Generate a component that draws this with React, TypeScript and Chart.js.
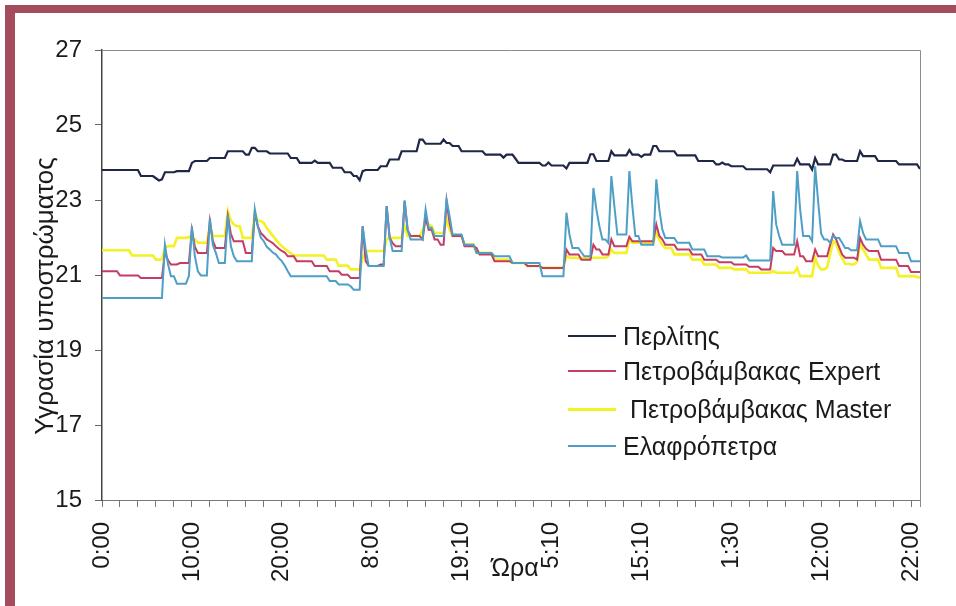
import React, { useEffect, useRef } from 'react';
import { Chart, registerables } from 'chart.js';

Chart.register(...registerables);

const FONT = "'Liberation Sans', Arial, sans-serif";

const seriesNames = ['Περλίτης', 'Πετροβάμβακας Expert', ' Πετροβάμβακας Master', 'Ελαφρόπετρα'];
const seriesColors = ['#1f2747', '#c43d62', '#f2f226', '#4e9fc6'];
const tickLabels = ['0:00', '10:00', '20:00', '8:00', '19:10', '5:10', '15:10', '1:30', '12:00', '22:00'];
const yTitle = 'Υγρασία υποστρώματος';
const xTitle = 'Ώρα';

// one value every 20 minutes of record
const perlite = [
  23.80, 23.80, 23.80, 23.80, 23.80, 23.80, 23.80, 23.80, 23.80, 23.80,
  23.80, 23.80, 23.80, 23.64, 23.64, 23.64, 23.64, 23.64, 23.58, 23.52,
  23.55, 23.74, 23.74, 23.74, 23.74, 23.77, 23.77, 23.77, 23.77, 23.77,
  23.99, 24.04, 24.04, 24.04, 24.04, 24.04, 24.12, 24.12, 24.12, 24.12,
  24.12, 24.12, 24.30, 24.30, 24.30, 24.30, 24.30, 24.30, 24.21, 24.21,
  24.39, 24.39, 24.30, 24.30, 24.30, 24.30, 24.24, 24.24, 24.24, 24.24,
  24.24, 24.24, 24.24, 24.12, 24.12, 24.12, 23.99, 23.99, 23.99, 23.99,
  23.99, 24.05, 23.99, 23.99, 23.99, 23.99, 23.99, 23.86, 23.86, 23.86,
  23.86, 23.74, 23.74, 23.74, 23.64, 23.64, 23.53, 23.77, 23.80, 23.80,
  23.80, 23.80, 23.80, 23.90, 23.90, 23.90, 24.08, 24.08, 24.08, 24.08,
  24.30, 24.30, 24.30, 24.30, 24.30, 24.30, 24.61, 24.61, 24.50, 24.50,
  24.50, 24.50, 24.50, 24.50, 24.61, 24.52, 24.52, 24.44, 24.44, 24.44,
  24.30, 24.30, 24.30, 24.30, 24.30, 24.30, 24.30, 24.30, 24.21, 24.21,
  24.21, 24.21, 24.21, 24.21, 24.13, 24.21, 24.21, 24.21, 24.10, 23.99,
  23.99, 23.99, 23.99, 23.99, 23.99, 23.99, 23.99, 23.92, 23.92, 24.00,
  23.92, 23.92, 23.92, 23.92, 23.92, 23.84, 23.99, 23.99, 23.99, 23.99,
  23.99, 23.99, 23.99, 24.22, 24.22, 24.04, 24.04, 24.04, 24.04, 24.04,
  24.30, 24.19, 24.19, 24.19, 24.19, 24.19, 24.33, 24.21, 24.21, 24.21,
  24.15, 24.21, 24.21, 24.21, 24.44, 24.44, 24.30, 24.30, 24.30, 24.30,
  24.30, 24.30, 24.19, 24.19, 24.19, 24.19, 24.19, 24.19, 24.19, 24.04,
  24.04, 24.04, 24.04, 24.04, 24.04, 23.95, 23.95, 24.00, 23.95, 23.95,
  23.90, 23.90, 23.90, 23.90, 23.90, 23.82, 23.82, 23.82, 23.82, 23.82,
  23.82, 23.82, 23.82, 23.74, 23.92, 23.92, 23.92, 23.92, 23.92, 23.92,
  23.92, 23.92, 24.10, 23.95, 23.95, 23.95, 23.95, 23.81, 24.12, 23.95,
  23.95, 23.95, 23.95, 23.95, 24.21, 24.21, 24.08, 24.08, 24.04, 24.04,
  24.04, 24.04, 24.04, 24.30, 24.17, 24.17, 24.17, 24.17, 24.17, 24.04,
  24.04, 24.04, 24.04, 24.04, 24.04, 24.04, 23.95, 23.95, 23.95, 23.95,
  23.95, 23.95, 23.95, 23.83,
];

const expert = [
  21.10, 21.10, 21.10, 21.10, 21.10, 21.10, 20.99, 20.99, 20.99, 20.99,
  20.99, 20.99, 20.99, 20.92, 20.92, 20.92, 20.92, 20.92, 20.92, 20.92,
  20.92, 21.60, 21.40, 21.28, 21.28, 21.28, 21.32, 21.32, 21.32, 21.32,
  22.21, 21.75, 21.59, 21.59, 21.59, 21.59, 22.44, 21.90, 21.72, 21.72,
  21.72, 21.72, 22.57, 22.10, 21.90, 21.90, 21.90, 21.90, 21.59, 21.59,
  21.59, 22.66, 22.30, 22.12, 22.04, 21.95, 21.90, 21.85, 21.77, 21.70,
  21.64, 21.60, 21.50, 21.50, 21.50, 21.37, 21.37, 21.37, 21.37, 21.37,
  21.37, 21.24, 21.24, 21.24, 21.24, 21.24, 21.10, 21.10, 21.10, 21.10,
  21.01, 21.01, 21.01, 20.92, 20.92, 20.92, 20.92, 22.30, 21.37, 21.24,
  21.24, 21.24, 21.24, 21.28, 21.28, 22.84, 22.00, 21.85, 21.77, 21.77,
  21.77, 22.97, 22.20, 22.04, 22.04, 22.04, 22.04, 21.95, 22.55, 22.21,
  22.21, 21.95, 21.95, 21.81, 21.81, 22.97, 22.39, 22.04, 22.04, 22.04,
  22.04, 21.77, 21.77, 21.77, 21.77, 21.72, 21.55, 21.55, 21.55, 21.55,
  21.55, 21.37, 21.37, 21.37, 21.37, 21.37, 21.37, 21.32, 21.32, 21.32,
  21.32, 21.32, 21.24, 21.24, 21.24, 21.24, 21.24, 21.19, 21.19, 21.19,
  21.19, 21.19, 21.19, 21.19, 21.19, 21.68, 21.55, 21.55, 21.55, 21.55,
  21.41, 21.41, 21.41, 21.41, 21.81, 21.68, 21.68, 21.55, 21.55, 21.55,
  21.95, 21.77, 21.77, 21.77, 21.77, 21.77, 22.02, 21.90, 21.90, 21.90,
  21.90, 21.90, 21.90, 21.90, 21.90, 22.35, 22.04, 21.95, 21.81, 21.81,
  21.81, 21.81, 21.68, 21.68, 21.68, 21.68, 21.68, 21.55, 21.55, 21.55,
  21.55, 21.41, 21.41, 21.41, 21.41, 21.41, 21.34, 21.34, 21.34, 21.34,
  21.34, 21.28, 21.28, 21.28, 21.28, 21.28, 21.22, 21.22, 21.22, 21.22,
  21.15, 21.15, 21.15, 21.15, 21.72, 21.64, 21.64, 21.64, 21.55, 21.55,
  21.55, 21.55, 21.90, 21.50, 21.50, 21.37, 21.37, 21.37, 21.68, 21.50,
  21.50, 21.50, 21.50, 21.80, 22.08, 21.95, 21.75, 21.55, 21.46, 21.46,
  21.46, 21.46, 21.41, 21.99, 21.81, 21.70, 21.64, 21.64, 21.64, 21.64,
  21.41, 21.41, 21.41, 21.41, 21.41, 21.41, 21.24, 21.24, 21.24, 21.24,
  21.08, 21.08, 21.08, 21.08,
];

const master = [
  21.66, 21.66, 21.66, 21.66, 21.66, 21.66, 21.66, 21.66, 21.66, 21.66,
  21.52, 21.52, 21.52, 21.52, 21.52, 21.52, 21.52, 21.52, 21.41, 21.41,
  21.41, 21.72, 21.77, 21.77, 21.77, 21.99, 21.99, 21.99, 21.99, 22.02,
  21.95, 21.95, 21.86, 21.86, 21.86, 21.86, 22.30, 22.04, 22.04, 22.04,
  22.04, 22.04, 22.70, 22.45, 22.35, 22.30, 22.30, 21.99, 21.99, 21.99,
  21.99, 22.66, 22.44, 22.44, 22.39, 22.25, 22.15, 22.05, 21.95, 21.85,
  21.77, 21.70, 21.64, 21.58, 21.52, 21.52, 21.52, 21.52, 21.52, 21.52,
  21.52, 21.52, 21.52, 21.52, 21.52, 21.41, 21.41, 21.41, 21.41, 21.25,
  21.25, 21.25, 21.25, 21.15, 21.15, 21.15, 21.15, 21.45, 21.64, 21.64,
  21.64, 21.64, 21.64, 21.64, 21.64, 21.95, 21.99, 21.99, 21.99, 21.99,
  21.99, 22.30, 22.04, 22.04, 22.04, 22.04, 22.04, 22.20, 22.40, 22.35,
  22.30, 22.12, 22.12, 22.12, 22.12, 22.48, 22.21, 22.04, 22.04, 22.04,
  22.04, 21.81, 21.81, 21.81, 21.81, 21.59, 21.59, 21.59, 21.59, 21.59,
  21.59, 21.41, 21.41, 21.41, 21.41, 21.41, 21.41, 21.32, 21.32, 21.32,
  21.32, 21.32, 21.24, 21.24, 21.24, 21.24, 21.24, 21.19, 21.19, 21.19,
  21.19, 21.19, 21.19, 21.19, 21.19, 21.50, 21.46, 21.46, 21.46, 21.45,
  21.45, 21.45, 21.45, 21.45, 21.46, 21.46, 21.46, 21.46, 21.46, 21.50,
  21.68, 21.59, 21.59, 21.59, 21.59, 21.59, 21.95, 21.86, 21.86, 21.86,
  21.86, 21.86, 21.86, 21.86, 21.86, 22.12, 21.95, 21.80, 21.72, 21.72,
  21.72, 21.55, 21.55, 21.55, 21.55, 21.55, 21.55, 21.41, 21.41, 21.41,
  21.41, 21.28, 21.28, 21.28, 21.28, 21.28, 21.19, 21.19, 21.19, 21.19,
  21.19, 21.15, 21.15, 21.15, 21.15, 21.15, 21.06, 21.06, 21.06, 21.06,
  21.06, 21.06, 21.06, 21.06, 21.10, 21.06, 21.06, 21.06, 21.06, 21.06,
  21.06, 21.06, 21.19, 20.97, 20.97, 20.97, 20.97, 20.97, 21.46, 21.25,
  21.15, 21.15, 21.20, 21.55, 21.90, 21.85, 21.60, 21.45, 21.30, 21.30,
  21.28, 21.28, 21.35, 21.81, 21.68, 21.55, 21.41, 21.41, 21.41, 21.41,
  21.19, 21.19, 21.19, 21.19, 21.19, 21.19, 20.97, 20.97, 20.97, 20.97,
  20.97, 20.97, 20.95, 20.93,
];

const pumice = [
  20.39, 20.39, 20.39, 20.39, 20.39, 20.39, 20.39, 20.39, 20.39, 20.39,
  20.39, 20.39, 20.39, 20.39, 20.39, 20.39, 20.39, 20.39, 20.39, 20.39,
  20.39, 21.81, 21.30, 20.97, 20.97, 20.77, 20.77, 20.77, 20.77, 20.97,
  22.30, 21.50, 21.10, 20.99, 20.99, 20.99, 22.52, 21.80, 21.59, 21.32,
  21.32, 21.32, 22.61, 21.77, 21.50, 21.37, 21.37, 21.37, 21.37, 21.37,
  21.37, 22.75, 22.30, 22.00, 21.90, 21.75, 21.68, 21.60, 21.55, 21.45,
  21.37, 21.25, 21.10, 20.97, 20.97, 20.97, 20.97, 20.97, 20.97, 20.97,
  20.97, 20.97, 20.97, 20.97, 20.97, 20.97, 20.84, 20.84, 20.84, 20.75,
  20.75, 20.75, 20.75, 20.70, 20.61, 20.61, 20.61, 22.30, 21.68, 21.24,
  21.24, 21.24, 21.24, 21.24, 21.24, 22.84, 22.00, 21.64, 21.64, 21.64,
  21.64, 22.99, 22.21, 21.95, 21.95, 21.95, 21.95, 21.95, 22.75, 22.26,
  22.26, 22.04, 22.04, 22.04, 22.04, 23.01, 22.57, 22.08, 22.08, 22.08,
  22.08, 21.81, 21.81, 21.81, 21.81, 21.59, 21.59, 21.59, 21.59, 21.59,
  21.59, 21.50, 21.50, 21.50, 21.50, 21.50, 21.50, 21.32, 21.32, 21.32,
  21.32, 21.32, 21.32, 21.32, 21.32, 21.32, 21.32, 20.97, 20.97, 20.97,
  20.97, 20.97, 20.97, 20.97, 20.97, 22.66, 22.08, 21.72, 21.72, 21.72,
  21.60, 21.50, 21.50, 21.50, 23.32, 22.75, 22.30, 21.95, 21.95, 21.85,
  23.64, 22.84, 22.08, 22.08, 22.08, 22.08, 23.77, 22.84, 22.04, 22.04,
  21.81, 21.81, 21.81, 21.81, 21.81, 23.55, 22.75, 22.21, 21.99, 21.99,
  21.99, 21.99, 21.86, 21.86, 21.86, 21.86, 21.86, 21.68, 21.68, 21.68,
  21.68, 21.68, 21.50, 21.50, 21.50, 21.50, 21.50, 21.47, 21.47, 21.47,
  21.47, 21.47, 21.47, 21.47, 21.47, 21.52, 21.39, 21.39, 21.39, 21.39,
  21.39, 21.39, 21.39, 21.39, 23.24, 22.35, 22.04, 21.81, 21.81, 21.81,
  21.81, 21.81, 23.77, 22.75, 22.04, 22.04, 22.04, 21.90, 23.90, 22.97,
  22.10, 21.95, 21.95, 21.86, 22.04, 21.99, 21.99, 21.86, 21.72, 21.72,
  21.66, 21.66, 21.66, 22.44, 22.12, 21.95, 21.95, 21.95, 21.95, 21.95,
  21.77, 21.77, 21.77, 21.77, 21.77, 21.77, 21.59, 21.59, 21.59, 21.59,
  21.37, 21.37, 21.37, 21.37,
];

const seriesValues = [perlite, expert, master, pumice];
const lineWidths = [2.2, 2, 2.6, 2];
const drawOrder = [0, 2, 3, 1];

const decorPlugin = {
  id: 'decor',
  beforeDatasetsDraw(chart: any) {
    const { ctx, chartArea } = chart;
    ctx.save();
    ctx.strokeStyle = '#8c8c8c';
    ctx.lineWidth = 1;
    ctx.beginPath();
    ctx.moveTo(chartArea.left, chartArea.top + 0.5);
    ctx.lineTo(chartArea.right + 0.5, chartArea.top + 0.5);
    ctx.lineTo(chartArea.right + 0.5, chartArea.bottom + 7);
    ctx.stroke();
    ctx.restore();
  },
  afterDraw(chart: any) {
    const { ctx, chartArea } = chart;
    ctx.save();
    ctx.fillStyle = '#1a1a1a';
    ctx.font = `26px ${FONT}`;
    ctx.textAlign = 'center';
    ctx.textBaseline = 'alphabetic';
    ctx.translate(chartArea.left - 49, (chartArea.top + chartArea.bottom) / 2 + 21);
    ctx.rotate(-Math.PI / 2);
    ctx.fillText(yTitle, 0, 0);
    ctx.restore();
    ctx.save();
    ctx.fillStyle = '#1a1a1a';
    ctx.font = `25px ${FONT}`;
    ctx.textAlign = 'center';
    ctx.textBaseline = 'alphabetic';
    ctx.fillText(xTitle, (chartArea.left + chartArea.right) / 2 + 4, chartArea.bottom + 76);
    ctx.restore();
  },
};

export default function App() {
  const canvasRef = useRef<HTMLCanvasElement | null>(null);

  useEffect(() => {
    const canvas = canvasRef.current;
    if (!canvas) return;
    const chart = new Chart(canvas, {
      type: 'line',
      data: {
        datasets: seriesValues.map((vals, k) => ({
          label: seriesNames[k],
          data: vals.map((v, i) => ({ x: i, y: v })),
          borderColor: seriesColors[k],
          backgroundColor: seriesColors[k],
          borderWidth: lineWidths[k],
          pointRadius: 0,
          tension: 0,
          fill: false,
          order: drawOrder[k],
        })),
      },
      options: {
        animation: false,
        responsive: false,
        devicePixelRatio: 1,
        layout: { padding: { left: 0, top: 50, right: 36, bottom: 0 } },
        plugins: { legend: { display: false }, tooltip: { enabled: false } },
        scales: {
          x: {
            type: 'linear',
            min: 0,
            max: perlite.length - 1,
            afterFit: (s: any) => { s.height = 106; },
            grid: { drawOnChartArea: false, drawTicks: true, tickLength: 7, color: '#777' },
            border: { display: true, color: '#777', width: 1 },
            ticks: {
              stepSize: 6,
              includeBounds: false,
              autoSkip: false,
              minRotation: 90,
              maxRotation: 90,
              padding: 15,
              color: '#1a1a1a',
              font: { family: FONT, size: 24 },
              callback: (v: any) => (Number(v) % 30 === 0 ? tickLabels[Number(v) / 30] : ''),
            },
          },
          y: {
            min: 15,
            max: 27,
            afterFit: (s: any) => { s.width = 102; },
            grid: { drawOnChartArea: false, drawTicks: true, tickLength: 7, color: '#666' },
            border: { display: true, color: '#444', width: 1.5 },
            ticks: {
              stepSize: 2,
              padding: 13,
              color: '#1a1a1a',
              font: { family: FONT, size: 24 },
            },
          },
        },
      },
      plugins: [decorPlugin],
    });
    return () => chart.destroy();
  }, []);

  const legendTop = [336, 371, 409, 446];

  return (
    <div style={{ position: 'fixed', left: 0, top: 0, width: 956, height: 606, overflow: 'hidden', background: '#fff' }}>
      <div
        style={{
          position: 'absolute', left: 5, top: 5, right: 0, bottom: 0,
          borderLeft: '10px solid #a54b5e', borderTop: '8px solid #a54b5e',
        }}
      />
      <canvas ref={canvasRef} width={956} height={606} style={{ position: 'absolute', left: 0, top: 0, display: 'block' }} />
      {seriesNames.map((name, k) => (
        <div
          key={name}
          style={{
            position: 'absolute', left: 568, top: legendTop[k] - 16, height: 32,
            display: 'flex', alignItems: 'center', whiteSpace: 'pre',
            fontFamily: FONT, fontSize: 25, color: '#1a1a1a',
          }}
        >
          <span style={{ display: 'inline-block', width: 48, height: k === 2 ? 3 : 2, background: seriesColors[k], marginRight: 7 }} />
          <span>{name}</span>
        </div>
      ))}
    </div>
  );
}
